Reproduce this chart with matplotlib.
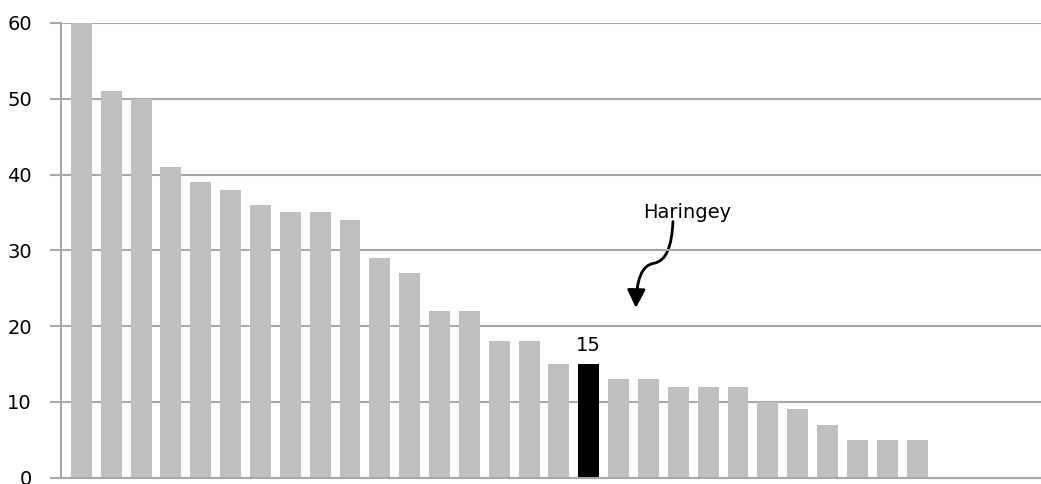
import matplotlib
matplotlib.use("Agg")
import matplotlib.pyplot as plt
from matplotlib.path import Path
from matplotlib.patches import FancyArrowPatch
import numpy as np

values = [60, 51, 50, 41, 39, 38, 36, 35, 35, 34, 29, 27, 22, 22, 18, 18, 15, 15,
          13, 13, 12, 12, 12, 10, 9, 7, 5, 5, 5]
highlight = 17
highlight_label = "Haringey"
yticks = [0, 10, 20, 30, 40, 50, 60]

fig = plt.figure(figsize=(10.41, 4.84), dpi=100)
ax = fig.add_axes([61 / 1041, (484 - 477.7) / 484, 1 - 61 / 1041 + 0.01, (477.7 - 23) / 484])

x = np.arange(len(values))
colors = ['#bfbfbf'] * len(values)
colors[highlight] = 'black'
ax.bar(x, values, width=0.7, color=colors, zorder=2)

ax.set_xlim(-0.683, 32.5)
ax.set_ylim(0, 60)
ax.set_yticks(yticks)
ax.set_xticks([])
ax.grid(axis='y', color='#a6a6a6', linewidth=1.5, zorder=0)
for s in ['top', 'right']:
    ax.spines[s].set_visible(False)
ax.spines['left'].set_color('#a6a6a6')
ax.spines['left'].set_linewidth(1.5)
ax.spines['bottom'].set_color('#a6a6a6')
ax.spines['bottom'].set_linewidth(1.5)
ax.tick_params(axis='y', length=8, width=1.5, color='#a6a6a6', labelsize=14, pad=13)

ax.text(highlight, values[highlight] + 2.5, str(values[highlight]), ha='center', va='center', fontsize=14)
ax.text(20.3, 35.0, highlight_label, ha='center', va='center', fontsize=14)

# S-shaped arrow from the label down toward the highlighted bar
verts = [(19.82, 33.8), (19.78, 30.5), (19.6, 28.6), (19.18, 28.3),
         (18.75, 28.0), (18.6, 26.0), (18.58, 22.4)]
codes = [Path.MOVETO, Path.CURVE4, Path.CURVE4, Path.CURVE4,
         Path.CURVE4, Path.CURVE4, Path.CURVE4]
arrow = FancyArrowPatch(path=Path(verts, codes), arrowstyle='-|>,head_length=11,head_width=5.5',
                        color='black', linewidth=2)
ax.add_patch(arrow)

fig.savefig("out.png", dpi=100)
